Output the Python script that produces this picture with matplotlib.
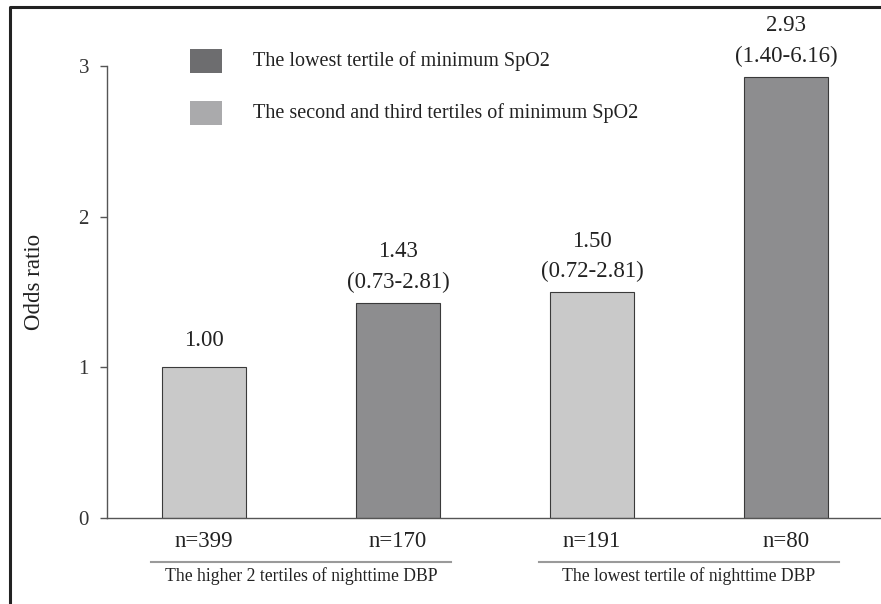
import matplotlib
matplotlib.use('Agg')
import matplotlib.pyplot as plt
from matplotlib.patches import Rectangle
from matplotlib.lines import Line2D

plt.rcParams['font.family'] = ['Liberation Serif', 'DejaVu Serif']

# Data
odds = [1.00, 1.43, 1.50, 2.93]
ci_labels = ['', '(0.73-2.81)', '(0.72-2.81)', '(1.40-6.16)']
n_labels = ['n=399', 'n=170', 'n=191', 'n=80']
is_lowest_spo2 = [False, True, False, True]
group_labels = ['The higher 2 tertiles of nighttime DBP', 'The lowest tertile of nighttime DBP']
group_centers = [0.5, 2.5]
legend_labels = ['The lowest tertile of minimum SpO2', 'The second and third tertiles of minimum SpO2']

W, H = 881, 604
dark_bar, light_bar = '#8d8d8f', '#c9c9c9'
dark_leg, light_leg = '#6d6d6f', '#aaaaac'
txt = '#222222'

fig = plt.figure(figsize=(W / 100, H / 100), dpi=100)
fig.patch.set_facecolor('white')

# axes placed in pixel terms: y axis at x=107, 0 at y=518, 3 at y=66
ax = fig.add_axes([107 / W, (H - 518) / H, (W - 107) / W, (518 - 66) / H])
xs = list(range(len(odds)))
colors = [dark_bar if d else light_bar for d in is_lowest_spo2]
ax.bar(xs, odds, width=0.435, color=colors, edgecolor='#3a3a3a', linewidth=0.8, zorder=2)

ax.set_xlim(-0.5, -0.5 + (W - 107) / 194)
ax.set_ylim(0, 3)
ax.set_yticks([0, 1, 2, 3])
ax.set_xticks([])
for s in ['top', 'right']:
    ax.spines[s].set_visible(False)
for s in ['left', 'bottom']:
    ax.spines[s].set_color('#555555')
    ax.spines[s].set_linewidth(1.0)
ax.tick_params(axis='y', length=5, width=1.0, color='#555555', pad=8,
               labelsize=15, labelcolor='#333333')
ax.set_ylabel('Odds ratio', fontsize=16.5, color=txt, va='center')
ax.yaxis.set_label_coords(-0.094, 0.523)

# value labels above bars
for x, v, ci in zip(xs, odds, ci_labels):
    if ci:
        ax.annotate(ci, (x, v), xytext=(0, 14.5), textcoords='offset points',
                    ha='center', va='center', fontsize=16.5, color=txt)
        ax.annotate(f'{v:.2f}', (x, v), xytext=(0, 36.5), textcoords='offset points',
                    ha='center', va='center', fontsize=16.5, color=txt)
    else:
        ax.annotate(f'{v:.2f}', (x, v), xytext=(0, 19.5), textcoords='offset points',
                    ha='center', va='center', fontsize=16.5, color=txt)

# n labels, group underlines and group names below axis
tr = ax.get_xaxis_transform()
for x, n in zip(xs, n_labels):
    ax.text(x, -0.051, n, transform=tr, ha='center', va='center',
            fontsize=16.5, color=txt, clip_on=False)
for c, g in zip(group_centers, group_labels):
    ax.add_line(Line2D([c - 0.773, c + 0.773], [-0.097, -0.097], transform=tr,
                       color='#9a9a9a', linewidth=1.5, clip_on=False))
    ax.text(c, -0.128, g, transform=tr, ha='center', va='center',
            fontsize=12.7, color=txt, clip_on=False)

# legend drawn in figure pixels
for (y0, col, lab) in [(49, dark_leg, legend_labels[0]), (101, light_leg, legend_labels[1])]:
    fig.add_artist(Rectangle((190 / W, (H - y0 - 24) / H), 32 / W, 24 / H,
                             transform=fig.transFigure, facecolor=col, edgecolor='none'))
    fig.text(253 / W, (H - y0 - 12) / H, lab, ha='left', va='center',
             fontsize=14.5, color=txt)

# outer frame (top and left edges visible)
fig.add_artist(Line2D([10 / W, 10 / W, 1.0], [0.0, (H - 6.5) / H, (H - 6.5) / H],
                      transform=fig.transFigure, color='#222222', linewidth=2.2))

fig.savefig('out.png', dpi=100)
